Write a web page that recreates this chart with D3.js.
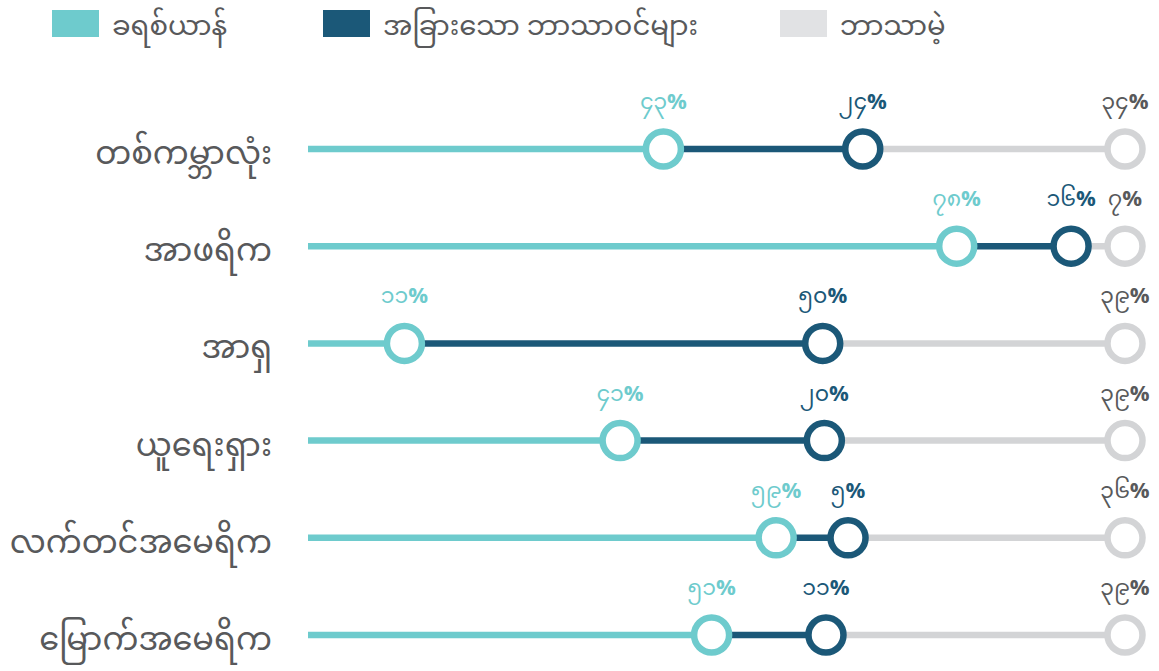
<!DOCTYPE html>
<html>
<head>
<meta charset="utf-8">
<script src="https://cdn.jsdelivr.net/npm/d3@7"></script>
<style>
  html, body { margin: 0; padding: 0; background: #fff; }
  svg { display: block; font-family: "Noto Sans Myanmar", "Padauk", "Myanmar Text", "Noto Sans", sans-serif; }
</style>
</head>
<body>
<svg id="chart" width="1159" height="671"></svg>
<script>
const regions = ["တစ်ကမ္ဘာလုံး", "အာဖရိက", "အာရှ", "ယူရေးရှား", "လက်တင်အမေရိက", "မြောက်အမေရိက"];
// printed percentages
const christian = [43, 78, 11, 41, 59, 51];
const otherReligion = [24, 16, 50, 20, 5, 11];
const noReligion = [34, 7, 39, 39, 36, 39];
// cumulative positions of the dots (percent of 100)
const christianEnd = [43.5, 79.4, 11.8, 38.2, 57.3, 49.4];
const otherEnd = [67.9, 93.4, 63.0, 63.2, 66.1, 63.4];
const noneEnd = [100, 100, 100, 100, 100, 100];
const seriesNames = ["ခရစ်ယာန်", "အခြားသော ဘာသာဝင်များ", "ဘာသာမဲ့"];
const colors = ["#6ecbcd", "#1b5878", "#d3d4d6"];
const labelColors = ["#6ecbcd", "#1b5878", "#58595b"];

const toMyanmar = n => String(n).replace(/[0-9]/g, d => "၀၁၂၃၄၅၆၇၈၉"[+d]);

const svg = d3.select("#chart");
const x = d3.scaleLinear().domain([0, 100]).range([308, 1125]);
const y = d3.scalePoint().domain(regions).range([149, 635]);

// legend
const legendX = [52, 323, 780];
const legend = svg.append("g");
seriesNames.forEach((name, i) => {
  const g = legend.append("g").attr("transform", `translate(${legendX[i]},10)`);
  g.append("rect").attr("width", 47).attr("height", 27)
    .attr("fill", i === 2 ? "#e1e2e4" : colors[i]);
  g.append("text").attr("x", 60).attr("y", 25)
    .attr("font-size", 27.5).attr("fill", "#58595b").text(name);
});

const rows = regions.map((r, i) => ({
  region: r,
  vals: [christian[i], otherReligion[i], noReligion[i]],
  pos: [christianEnd[i], otherEnd[i], noneEnd[i]]
}));

const row = svg.append("g").selectAll("g").data(rows).join("g")
  .attr("transform", d => `translate(0,${y(d.region)})`);

row.each(function(d) {
  const g = d3.select(this);
  const starts = [0, d.pos[0], d.pos[1]];
  [2, 1, 0].forEach(k => {
    g.append("line")
      .attr("x1", x(starts[k])).attr("x2", x(d.pos[k]))
      .attr("y1", 0).attr("y2", 0)
      .attr("stroke", colors[k]).attr("stroke-width", 6.5);
  });
  [2, 1, 0].forEach(k => {
    g.append("circle").attr("cx", x(d.pos[k])).attr("cy", 0).attr("r", 17.5)
      .attr("fill", "#fff").attr("stroke", colors[k]).attr("stroke-width", 6.5);
  });
  [0, 1, 2].forEach(k => {
    const t = g.append("text").attr("x", x(d.pos[k])).attr("y", -40)
      .attr("text-anchor", "middle").attr("font-size", 22)
      .attr("fill", labelColors[k]);
    t.append("tspan").attr("font-weight", "normal").text(toMyanmar(d.vals[k]));
    t.append("tspan").attr("font-weight", "bold").text("%");
  });
  g.append("text").attr("x", 272).attr("y", 15)
    .attr("text-anchor", "end").attr("font-size", 32)
    .attr("fill", "#58595b").text(d.region);
});
</script>
</body>
</html>
